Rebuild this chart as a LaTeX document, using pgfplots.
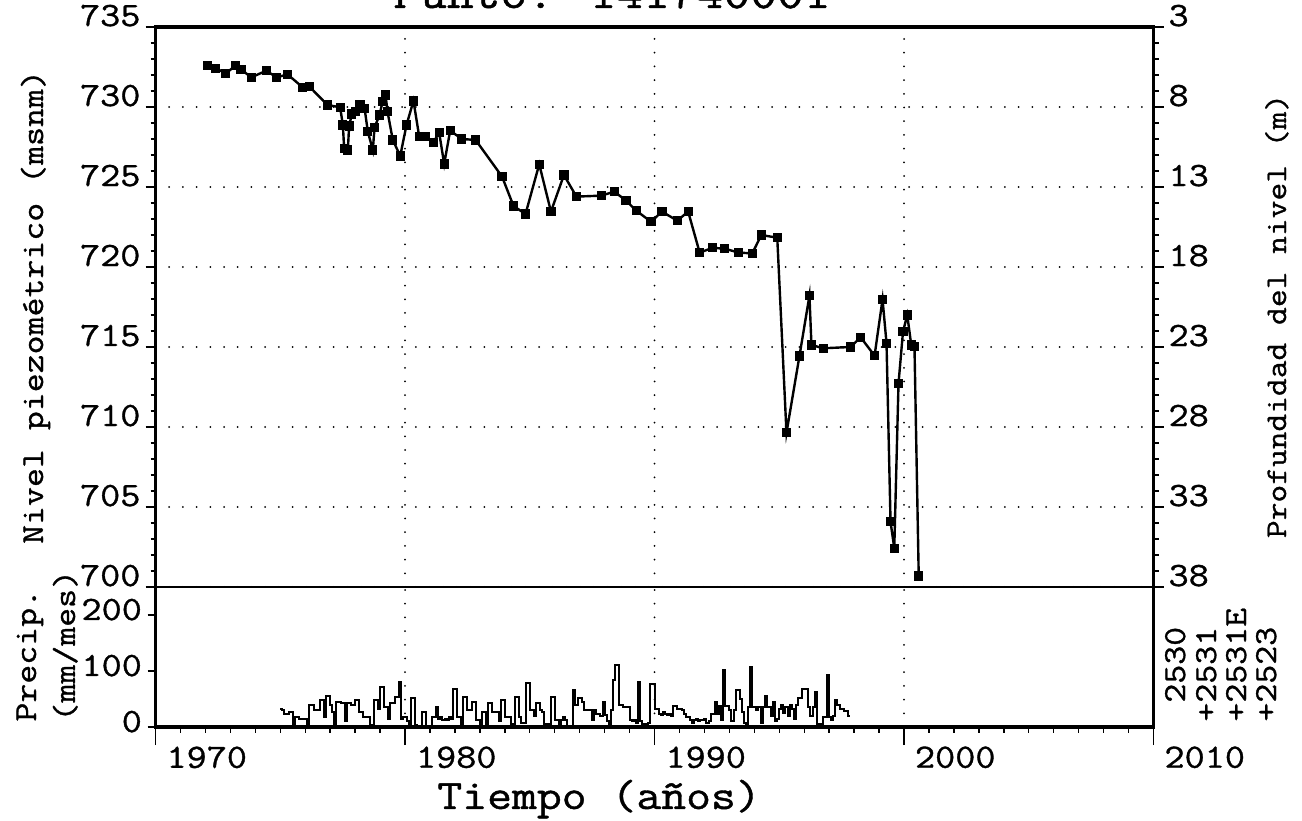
\documentclass[border=0pt]{standalone}
\usepackage{fontspec}
\setmainfont{Latin Modern Mono}[FakeStretch=1.15, FakeBold=1]
\usepackage{pgfplots}
\pgfplotsset{compat=1.18}
\usepackage{pgfplotstable}

% monthly precipitation (mm/mes) from Jan 1975
\pgfplotstableread[row sep=\\]{
p\\
33\\30\\24\\24\\26\\26\\0\\18\\18\\15\\15\\15\\
15\\0\\39\\39\\30\\30\\30\\48\\48\\18\\56\\56\\
40\\27\\0\\45\\45\\42\\42\\10\\42\\42\\39\\39\\
48\\48\\27\\27\\18\\18\\18\\3\\0\\48\\48\\33\\
72\\72\\36\\36\\15\\42\\42\\54\\54\\81\\15\\18\\
18\\10\\3\\51\\51\\3\\0\\0\\27\\27\\2\\0\\
0\\18\\18\\36\\15\\18\\12\\15\\12\\18\\15\\67\\
67\\18\\18\\3\\54\\54\\30\\30\\45\\45\\12\\12\\
0\\27\\27\\5\\42\\42\\27\\27\\27\\10\\48\\48\\
18\\18\\18\\5\\5\\54\\54\\18\\8\\8\\78\\78\\
30\\30\\20\\42\\42\\30\\27\\5\\5\\5\\54\\54\\
12\\12\\3\\12\\18\\12\\0\\0\\0\\66\\40\\51\\
51\\45\\30\\30\\30\\30\\12\\30\\24\\24\\20\\45\\
21\\10\\5\\30\\84\\111\\111\\40\\40\\35\\35\\35\\
12\\10\\12\\8\\81\\10\\6\\6\\3\\8\\77\\77\\
33\\33\\24\\22\\26\\24\\22\\24\\20\\37\\37\\33\\
33\\30\\24\\18\\18\\12\\8\\12\\15\\10\\12\\12\\
15\\8\\10\\24\\24\\45\\24\\37\\12\\101\\37\\37\\
30\\10\\30\\66\\66\\50\\27\\8\\5\\36\\108\\36\\
36\\30\\36\\8\\36\\55\\36\\36\\20\\45\\10\\15\\
33\\39\\25\\36\\20\\40\\33\\15\\40\\51\\51\\67\\
67\\67\\36\\20\\36\\63\\6\\6\\3\\18\\18\\93\\
18\\12\\20\\49\\40\\33\\33\\29\\29\\20\\20\\
}\precip

\begin{document}
\begin{tikzpicture}
\pgfplotsset{
  every axis/.append style={
    scale only axis, width=499pt,
    font=\fontsize{17}{17}\selectfont,
    /pgf/number format/1000 sep={},
    /pgf/number format/assume math mode=true,
    tick style={black, line width=0.7pt},
  },
}
% ---------------- upper panel: water level ----------------
\begin{axis}[
  at={(77.75pt,116.5pt)}, anchor=south west,
  height=280pt,
  xmin=1970, xmax=2010, ymin=700, ymax=735,
  axis line style={draw=none},
  clip=false,
  xtick={1980,1990,2000}, xticklabels={}, major x tick style={draw=none},
  ytick={700,705,...,735}, minor y tick num=4,
  ytick pos=left, tick align=outside,
  major tick length=5pt, minor tick length=2.5pt,
  grid=major,
  major grid style={black, line width=1pt, line cap=round, dash pattern=on 0pt off 6.85pt},
  yticklabel style={anchor=base east, inner ysep=0.5pt, xshift=1pt, yshift=0.5pt},
]
\addplot[black, line width=1.2pt, mark=square*, mark size=1.7pt] coordinates {
(1972.08,732.58) (1972.42,732.42) (1972.82,732.10) (1973.22,732.60)
(1973.43,732.35) (1973.84,731.85) (1974.44,732.27) (1974.86,731.85)
(1975.29,732.04) (1975.90,731.23) (1976.17,731.27) (1976.89,730.13)
(1977.40,729.98) (1977.51,728.88) (1977.56,727.42) (1977.71,727.31)
(1977.76,728.81) (1977.87,729.56) (1978.03,729.71) (1978.20,730.13)
(1978.38,729.92) (1978.51,728.46) (1978.71,727.31) (1978.78,728.73)
(1978.98,729.50) (1979.10,730.33) (1979.22,730.75) (1979.30,729.71)
(1979.51,727.94) (1979.81,726.94) (1980.06,728.88) (1980.34,730.38)
(1980.57,728.15) (1980.81,728.15) (1981.13,727.77) (1981.37,728.40)
(1981.57,726.44) (1981.81,728.52) (1982.28,728.00) (1982.83,727.94)
(1983.89,725.65) (1984.35,723.81) (1984.83,723.31) (1985.38,726.42)
(1985.85,723.46) (1986.37,725.75) (1986.87,724.40) (1987.87,724.46)
(1988.39,724.71) (1988.86,724.15) (1989.27,723.52) (1989.86,722.83)
(1990.30,723.46) (1990.91,722.90) (1991.35,723.46) (1991.81,720.90)
(1992.33,721.20) (1992.82,721.14) (1993.38,720.90) (1993.92,720.85)
(1994.28,722.00) (1994.92,721.83) (1995.29,709.64) (1995.81,714.44)
(1996.21,718.21) (1996.29,715.13) (1996.76,714.92) (1997.86,715.00)
(1998.26,715.61) (1998.82,714.46) (1999.14,717.98) (1999.30,715.23)
(1999.46,704.08) (1999.61,702.42) (1999.78,712.73) (1999.96,715.96)
(2000.13,717.00) (2000.29,715.13) (2000.42,715.02) (2000.59,700.69)
};
\draw[line width=1.8pt, line join=miter] (rel axis cs:0,0) -- (rel axis cs:0,1) -- (rel axis cs:1,1) -- (rel axis cs:1,0);
\draw[line width=0.8pt] (rel axis cs:0,0) -- (rel axis cs:1,0);
\end{axis}
% ---------------- right depth scale ----------------
\begin{axis}[
  at={(77.75pt,116.5pt)}, anchor=south west,
  height=280pt,
  xmin=1970, xmax=2010, ymin=3, ymax=38, y dir=reverse,
  axis x line=none, axis y line*=right,
  axis line style={draw=none},
  ytick={3,8,...,38}, minor y tick num=4,
  tick align=outside,
  major tick length=5pt, minor tick length=2.5pt,
  yticklabel style={anchor=base west, inner ysep=0.5pt, xshift=-1pt, yshift=0.5pt},
]
\end{axis}
% ---------------- lower panel: precipitation ----------------
\begin{axis}[
  at={(77.75pt,46.5pt)}, anchor=south west,
  height=70pt,
  xmin=1970, xmax=2010, ymin=0, ymax=250,
  axis line style={draw=none},
  clip=false,
  xtick={1970,1980,...,2010}, minor x tick num=9,
  ytick={0,100,200},
  tick pos=left, tick align=outside,
  xtick style={/pgfplots/major tick length=9pt, /pgfplots/minor tick length=3pt},
  ytick style={/pgfplots/major tick length=4pt},
  xmajorgrids,
  major grid style={black, line width=1pt, line cap=round, dash pattern=on 0pt off 6.85pt},
  xticklabel style={anchor=north west, inner sep=1pt, xshift=4.3pt, yshift=-4.3pt},
  yticklabel style={anchor=base east, inner ysep=0.5pt, xshift=1pt, yshift=-2.5pt},
]
\addplot[black, line width=1pt, const plot] table[x expr=1975+\coordindex/12, y=p] {\precip};
\draw[line width=1.8pt, line join=miter] (rel axis cs:0,1) -- (rel axis cs:0,0) -- (rel axis cs:1,0) -- (rel axis cs:1,1);
\end{axis}
% ---------------- labels ----------------
\tikzset{lab/.style={rotate=90, inner sep=0pt, font=\fontsize{16}{16}\selectfont}}
\node[lab, anchor=base] at (21.5pt,256.5pt) {Nivel piezométrico (msnm)};
\node[lab, anchor=base west] at (18pt,49pt) {Precip.};
\node[lab, anchor=base west] at (37.5pt,49pt) {(mm/mes)};
\node[lab, anchor=base, font=\fontsize{15}{15}\selectfont] at (643pt,252pt) {Profundidad del nivel (m)};
\node[lab, anchor=base west] at (592.5pt,49pt) {\phantom{+}2530};
\node[lab, anchor=base west] at (608pt,49pt) {+2531};
\node[lab, anchor=base west] at (623pt,49pt) {+2531E};
\node[lab, anchor=base west] at (638pt,49pt) {+2523};
\node[anchor=base west, inner sep=0pt, font=\fontsize{22.6}{22.6}\selectfont] at (196.5pt,406pt) {Punto: 141740001};
\node[anchor=base west, inner sep=0pt, font=\fontsize{21}{21}\selectfont] at (218.5pt,5.5pt) {Tiempo (años)};
\pgfresetboundingbox
\useasboundingbox (0,0) rectangle (651pt,410pt);
\end{tikzpicture}
\end{document}
